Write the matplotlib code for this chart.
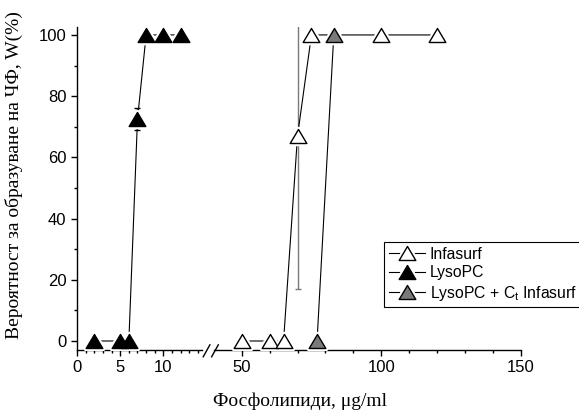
import matplotlib
matplotlib.use('Agg')
import matplotlib.pyplot as plt
from matplotlib.lines import Line2D
from matplotlib.path import Path
import numpy as np

plt.rc('font', family='Liberation Sans', size=12)
plt.rc('mathtext', fontset='custom', rm='Liberation Sans', it='Liberation Sans:italic')

# LysoPC alone
lyso_x = [2, 5, 6, 7, 8, 10, 12]
lyso_y = [0, 0, 0, 72.5, 100, 100, 100]
lyso_err = [0, 0, 0, 3.5, 0, 0, 0]

# Infasurf alone
infa_x = [50, 60, 65, 70, 75, 100, 120]
infa_y = [0, 0, 0, 67, 100, 100, 100]
infa_err = [0, 0, 0, 50, 0, 0, 0]

# LysoPC + Ct Infasurf
mix_x = [77, 83]
mix_y = [0, 100]

labels = ['Infasurf', 'LysoPC', 'LysoPC + C$_\\mathrm{t}$ Infasurf']

# slightly flattened triangle, like the Origin default
tri = Path([(-1, -0.84), (1, -0.84), (0, 0.84), (-1, -0.84)],
           [Path.MOVETO, Path.LINETO, Path.LINETO, Path.CLOSEPOLY])
MS = 12
GREY = '#7a7a7a'

fig = plt.figure(figsize=(5.79, 4.12), dpi=100)
ax1 = fig.add_axes([0.133, 0.1505, 0.2164, 0.784])
ax2 = fig.add_axes([0.3693, 0.1505, 0.530, 0.784], sharey=ax1)


def draw_series(ax, x, y, fc, err=None, ecolor='k'):
    if err is not None:
        ax.errorbar(x, y, yerr=err, fmt='none', ecolor=ecolor, elinewidth=1,
                    capsize=2.5, capthick=1, zorder=2)
    ax.plot(x, y, color='k', lw=0.8, zorder=3)
    # white halo leaves a small gap between the line and each marker
    ax.plot(x, y, ls='none', marker=tri, ms=MS, mfc='white', mec='white',
            mew=4, zorder=4)
    ax.plot(x, y, ls='none', marker=tri, ms=MS, mfc=fc, mec='k',
            mew=1, zorder=5)


draw_series(ax1, lyso_x, lyso_y, 'k', err=lyso_err, ecolor='k')
draw_series(ax2, infa_x, infa_y, 'white', err=infa_err, ecolor=GREY)
draw_series(ax2, mix_x, mix_y, GREY)

ax1.set_xlim(0, 14.5)
ax2.set_xlim(40, 150)
ax1.set_ylim(-2.94, 102.6)

ax1.set_xticks([0, 5, 10])
ax1.set_xticks(np.arange(0, 15, 1), minor=True)
ax2.set_xticks([50, 100, 150])
ax2.set_xticks(np.arange(50, 151, 10), minor=True)
ax1.set_yticks([0, 20, 40, 60, 80, 100])
ax1.set_yticks([10, 30, 50, 70, 90], minor=True)

for ax in (ax1, ax2):
    ax.spines['top'].set_visible(False)
    ax.spines['right'].set_visible(False)
    ax.tick_params(which='major', direction='out', length=4, width=1)
    ax.tick_params(which='minor', direction='out', length=2.5, width=1)
    for s in ax.spines.values():
        s.set_linewidth(1)
ax2.spines['left'].set_visible(False)
ax2.tick_params(axis='y', which='both', left=False, labelleft=False)

# axis break marks
for dx in (0.0, 0.0145):
    fig.add_artist(Line2D([0.351 + dx, 0.3625 + dx], [0.134, 0.163],
                          transform=fig.transFigure, color='k', lw=1))

fig.text(0.024, 0.574, 'Вероятност за образуване на ЧФ, W(%)',
         rotation=90, ha='center', va='center', family='Liberation Serif', fontsize=14)
fig.text(300 / 579, 0.027, 'Фосфолипиди, μg/ml', ha='center', va='center',
         family='Liberation Serif', fontsize=14)

# legend handles: line, white gap, marker
def handle(fc):
    return (Line2D([], [], color='k', lw=0.8),
            Line2D([], [], ls='none', marker=tri, ms=MS, mfc='white', mec='white', mew=4),
            Line2D([], [], ls='none', marker=tri, ms=MS, mfc=fc, mec='k', mew=1))

leg = fig.legend([handle('white'), handle('k'), handle(GREY)], labels,
                 loc='upper left', bbox_to_anchor=(384 / 579, 1 - 242 / 412),
                 borderaxespad=0, fancybox=False, edgecolor='k', fontsize=11.3,
                 handlelength=2.3, handletextpad=0.3, labelspacing=0.22,
                 borderpad=0.3, framealpha=1)
leg.get_frame().set_linewidth(0.8)

fig.savefig('out.png', dpi=100)
